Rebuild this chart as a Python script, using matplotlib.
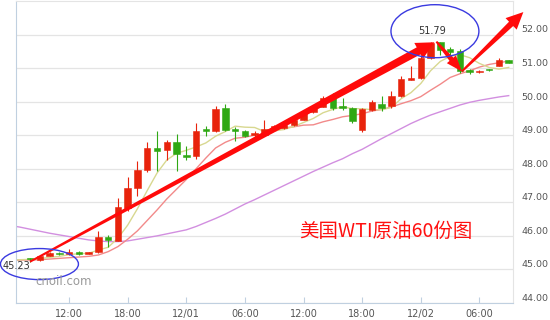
import numpy as np
import matplotlib
matplotlib.use("Agg")
import matplotlib.pyplot as plt
from matplotlib.patches import Polygon, Ellipse
from matplotlib.transforms import IdentityTransform, ScaledTranslation

# hourly WTI candles, 11/30 08:00 .. 12/02 09:00
opens = [45.31, 45.28, 45.41, 45.49, 45.45, 45.53, 45.46, 45.51, 45.98, 45.86,
         46.83, 47.44, 47.96, 48.62, 48.55, 48.79, 48.40, 48.37, 49.16, 49.13,
         49.81, 49.15, 49.13, 49.00, 49.01, 49.19, 49.21, 49.31, 49.46, 49.68,
         49.85, 50.10, 49.83, 49.81, 49.16, 49.74, 49.94, 49.86, 50.18, 50.66,
         50.71, 51.31, 51.77, 51.57, 51.50, 50.91, 50.87, 50.95, 51.07, 51.23]
highs = [45.34, 45.43, 45.52, 45.52, 45.60, 45.56, 45.51, 46.16, 46.02, 47.13,
         47.76, 48.22, 48.79, 49.13, 48.85, 49.03, 48.69, 49.36, 49.27, 49.88,
         49.93, 49.25, 49.15, 49.12, 49.44, 49.30, 49.36, 49.48, 49.70, 49.85,
         50.18, 50.25, 50.10, 49.85, 49.80, 50.06, 50.16, 50.31, 50.76, 51.05,
         51.35, 51.79, 51.79, 51.62, 51.58, 50.98, 50.94, 50.96, 51.30, 51.24]
lows = [45.23, 45.26, 45.39, 45.43, 45.43, 45.44, 45.45, 45.48, 45.67, 45.84,
        46.73, 47.20, 47.90, 47.92, 48.27, 47.94, 48.27, 48.30, 48.98, 49.10,
        49.12, 48.82, 48.95, 48.95, 48.98, 49.15, 49.18, 49.28, 49.44, 49.65,
        49.83, 49.76, 49.76, 49.35, 49.11, 49.72, 49.72, 49.82, 50.15, 50.65,
        50.68, 51.28, 51.40, 51.38, 50.85, 50.83, 50.84, 50.92, 51.05, 51.14]
closes = [45.30, 45.41, 45.49, 45.45, 45.53, 45.46, 45.49, 45.96, 45.88, 46.86,
          47.42, 47.95, 48.62, 48.52, 48.79, 48.44, 48.36, 49.12, 49.14, 49.79,
          49.16, 49.13, 48.99, 49.08, 49.19, 49.27, 49.31, 49.44, 49.67, 49.82,
          50.12, 49.81, 49.81, 49.41, 49.78, 49.98, 49.82, 50.18, 50.68, 50.69,
          51.31, 51.75, 51.55, 51.47, 50.90, 50.88, 50.91, 50.93, 51.23, 51.15]

# moving average lines (two points before the first candle)
ma_short = [45.28, 45.29,
            45.30, 45.32, 45.36, 45.39, 45.44, 45.47, 45.48, 45.58, 45.66, 45.93,
            46.32, 46.81, 47.35, 47.87, 48.26, 48.46, 48.55, 48.65, 48.77, 48.97,
            49.11, 49.27, 49.24, 49.23, 49.11, 49.13, 49.17, 49.26, 49.38, 49.50,
            49.67, 49.77, 49.85, 49.79, 49.79, 49.76, 49.76, 49.83, 50.09, 50.27,
            50.54, 50.92, 51.20, 51.35, 51.40, 51.31, 51.14, 51.02, 50.97, 51.02]
ma_mid = [45.27, 45.28,
          45.28, 45.29, 45.31, 45.33, 45.35, 45.37, 45.39, 45.43, 45.53, 45.68,
          45.90, 46.15, 46.46, 46.77, 47.10, 47.39, 47.68, 48.00, 48.32, 48.62,
          48.79, 48.91, 48.94, 49.00, 49.04, 49.12, 49.22, 49.25, 49.30, 49.31,
          49.40, 49.47, 49.55, 49.59, 49.64, 49.72, 49.77, 49.84, 49.94, 50.03,
          50.15, 50.34, 50.52, 50.72, 50.83, 50.92, 51.03, 51.11, 51.16, 51.21]
ma_long = [46.31, 46.26,
           46.20, 46.14, 46.08, 46.03, 45.98, 45.93, 45.88, 45.85, 45.83, 45.83,
           45.85, 45.90, 45.95, 46.00, 46.06, 46.12, 46.18, 46.28, 46.40, 46.52,
           46.65, 46.80, 46.95, 47.08, 47.22, 47.36, 47.50, 47.64, 47.78, 47.92,
           48.05, 48.18, 48.30, 48.45, 48.58, 48.74, 48.90, 49.05, 49.20, 49.35,
           49.48, 49.60, 49.70, 49.80, 49.90, 49.98, 50.04, 50.09, 50.14, 50.18]

tick_pos = [4, 10, 16, 22, 28, 34, 40, 46]
tick_labels = ["12:00", "18:00", "12/01", "06:00", "12:00", "18:00", "12/02", "06:00"]
y_ticks = [44, 45, 46, 47, 48, 49, 50, 51, 52]

RED = "#e8230c"
GREEN = "#2fa814"

fig = plt.figure(figsize=(5.5, 3.2), dpi=100)
ax = fig.add_axes([16 / 550, 17 / 320, 497 / 550, 302 / 320])
ax.set_xlim(-1.43, 49.44)
ax.set_ylim(44, 53)

x = np.arange(len(closes))
o = np.array(opens)
c = np.array(closes)
col = [RED if cc >= oo else GREEN for oo, cc in zip(o, c)]
ax.vlines(x, lows, highs, colors=col, linewidth=0.8, zorder=3)
body = np.maximum(np.abs(c - o), 0.05)
ax.bar(x, body, bottom=np.minimum(o, c), width=0.66, color=col, edgecolor=col,
       linewidth=0.4, zorder=4)

xm = np.arange(-2, len(closes))
ax.plot(xm, ma_long, color="#d28fe0", lw=1.0, zorder=2)
ax.plot(xm, ma_mid, color="#f28a8a", lw=1.0, zorder=2)
ax.plot(xm, ma_short, color="#d8d890", lw=1.0, zorder=2)

# axes styling
ax.set_yticks(y_ticks)
ax.set_yticklabels(["%.2f" % v for v in y_ticks])
ax.yaxis.tick_right()
ax.tick_params(axis="y", length=0, pad=6, labelsize=6.8, labelcolor="#555555")
off = ScaledTranslation(0, 4 / 72, fig.dpi_scale_trans)
for lab in ax.get_yticklabels():
    lab.set_transform(lab.get_transform() + off)
ax.set_xticks(tick_pos)
ax.set_xticklabels(tick_labels)
ax.tick_params(axis="x", direction="in", length=4.5, width=0.8, color="#c0d0e0",
               labelsize=7, labelcolor="#555555", pad=4.5)
ax.grid(axis="y", color="#e4e4e4", lw=0.9)
ax.set_axisbelow(True)
for s in ["left", "bottom"]:
    ax.spines[s].set_color("#c0d0e0")
for s in ["top", "right"]:
    ax.spines[s].set_color("#e4e4e4")


def big_arrow(x0, y0, x1, y1, w0, w1, head_w, head_len):
    p0 = ax.transData.transform((x0, y0))
    p1 = ax.transData.transform((x1, y1))
    d = p1 - p0
    u = d / np.hypot(*d)
    n = np.array([-u[1], u[0]])
    base = p1 - u * head_len
    pts = [p0 + n * w0 / 2, base + n * w1 / 2, base + n * head_w / 2, p1,
           base - n * head_w / 2, base - n * w1 / 2, p0 - n * w0 / 2]
    ax.add_patch(Polygon(pts, closed=True, transform=IdentityTransform(),
                         facecolor="#ff0a0a", edgecolor="none", clip_on=False, zorder=6))


big_arrow(0, 45.23, 41.4, 51.77, 2, 8, 18, 18)
big_arrow(41.6, 51.79, 44.2, 50.9, 2, 5, 12, 16)
big_arrow(44.2, 50.9, 50.5, 52.67, 2, 6, 16, 17)

ax.add_patch(Ellipse((0.97, 45.16), 7.98, 0.925, fill=False, edgecolor="#3a3ae0",
                     lw=1.0, clip_on=False, zorder=7))
ax.add_patch(Ellipse((41.45, 52.1), 9.0, 1.58, fill=False, edgecolor="#3a3ae0",
                     lw=1.0, clip_on=False, zorder=7))

ax.text(41.15, 52.12, "51.79", ha="center", va="center", fontsize=7, color="#333333", zorder=8)
ax.text(-2.76, 45.10, "45.23", ha="left", va="center", fontsize=7, color="#333333",
        clip_on=False, zorder=8)
ax.text(0.51, 44.63, "cnoil.com", ha="left", va="center", fontsize=8.5, color="#9a9a9a", zorder=8)
ax.text(27.6, 46.12, "美国WTI原油60份图", ha="left", va="center", fontsize=14,
        color="#ff1010", family=["Noto Sans CJK SC", "DejaVu Sans"], zorder=8)

fig.savefig("out.png", dpi=100)
plt.close(fig)
